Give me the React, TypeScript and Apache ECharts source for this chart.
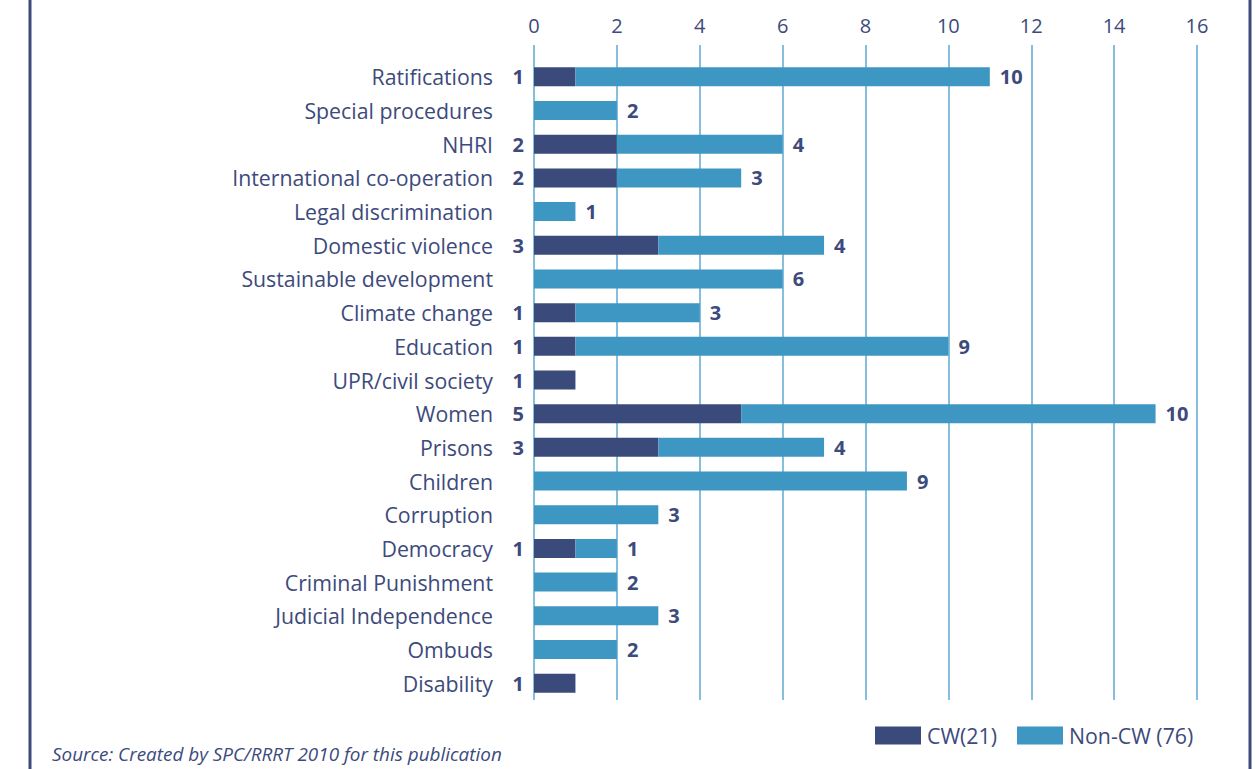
import React, { useEffect, useRef } from "react";
import * as echarts from "echarts";

const categories = [
  "Ratifications",
  "Special procedures",
  "NHRI",
  "International co-operation",
  "Legal discrimination",
  "Domestic violence",
  "Sustainable development",
  "Climate change",
  "Education",
  "UPR/civil society",
  "Women",
  "Prisons",
  "Children",
  "Corruption",
  "Democracy",
  "Criminal Punishment",
  "Judicial Independence",
  "Ombuds",
  "Disability",
];

const cwValues = [1, 0, 2, 2, 0, 3, 0, 1, 1, 1, 5, 3, 0, 0, 1, 0, 0, 0, 1];
const nonCwValues = [10, 2, 4, 3, 1, 4, 6, 3, 9, 0, 10, 4, 9, 3, 1, 2, 3, 2, 0];

const seriesNames = ["CW(21)", "Non-CW (76)"];
const sourceText = "Source: Created by SPC/RRRT 2010 for this publication";

const DARK = "#3a4a7a";
const LIGHT = "#3e96c2";
const TEXT = "#3d4a7c";
const GRID = "#5eaad2";
const FONT = "'Open Sans', 'Noto Sans', sans-serif";

export default function App() {
  const ref = useRef<HTMLDivElement>(null);

  useEffect(() => {
    document.body.style.margin = "0";
    if (!ref.current) return;
    const chart = echarts.init(ref.current, null, { renderer: "svg" });
    const valueLabel = (p: any) => (p.value ? String(p.value) : "");
    chart.setOption({
      animation: false,
      textStyle: { fontFamily: FONT },
      grid: { left: 534, right: 62, top: 60, bottom: 69, containLabel: false },
      xAxis: {
        type: "value",
        position: "top",
        min: 0,
        max: 16,
        interval: 2,
        axisLine: { show: false },
        axisTick: { show: true, length: 15, lineStyle: { color: GRID, width: 1.5 } },
        splitLine: { show: true, lineStyle: { color: GRID, width: 1.5 } },
        axisLabel: { color: TEXT, fontSize: 20, fontFamily: FONT, margin: 25 },
      },
      yAxis: {
        type: "category",
        inverse: true,
        data: categories,
        axisLine: { show: false },
        axisTick: { show: false },
        axisLabel: { color: TEXT, fontSize: 21.3, fontFamily: FONT, margin: 41 },
      },
      legend: {
        left: 875,
        top: 725,
        padding: 0,
        itemWidth: 46,
        itemHeight: 18,
        itemGap: 20,
        icon: "rect",
        textStyle: { color: TEXT, fontSize: 21.3, fontFamily: FONT, padding: [0, 0, 0, 1] },
        data: seriesNames,
      },
      graphic: [
        { type: "line", shape: { x1: 30, y1: 0, x2: 30, y2: 769 }, style: { stroke: "#3d4b7b", lineWidth: 3 } },
        { type: "line", shape: { x1: 1250, y1: 0, x2: 1250, y2: 769 }, style: { stroke: "#3d4b7b", lineWidth: 3 } },
        {
          type: "text",
          left: 52,
          top: 744,
          style: {
            text: sourceText,
            fill: TEXT,
            font: "italic 18.9px 'Open Sans', sans-serif",
          },
        },
      ],
      series: [
        {
          name: seriesNames[0],
          type: "bar",
          stack: "total",
          barWidth: 19,
          data: cwValues,
          itemStyle: { color: DARK },
          label: {
            show: true,
            position: "left",
            distance: 10,
            formatter: valueLabel,
            color: TEXT,
            fontSize: 20,
            fontWeight: "bold",
            fontFamily: FONT,
          },
        },
        {
          name: seriesNames[1],
          type: "bar",
          stack: "total",
          barWidth: 19,
          data: nonCwValues,
          itemStyle: { color: LIGHT },
          label: {
            show: true,
            position: "right",
            distance: 10,
            formatter: valueLabel,
            color: TEXT,
            fontSize: 20,
            fontWeight: "bold",
            fontFamily: FONT,
          },
        },
      ],
    });
    return () => chart.dispose();
  }, []);

  return <div ref={ref} style={{ width: 1259, height: 769 }} />;
}
